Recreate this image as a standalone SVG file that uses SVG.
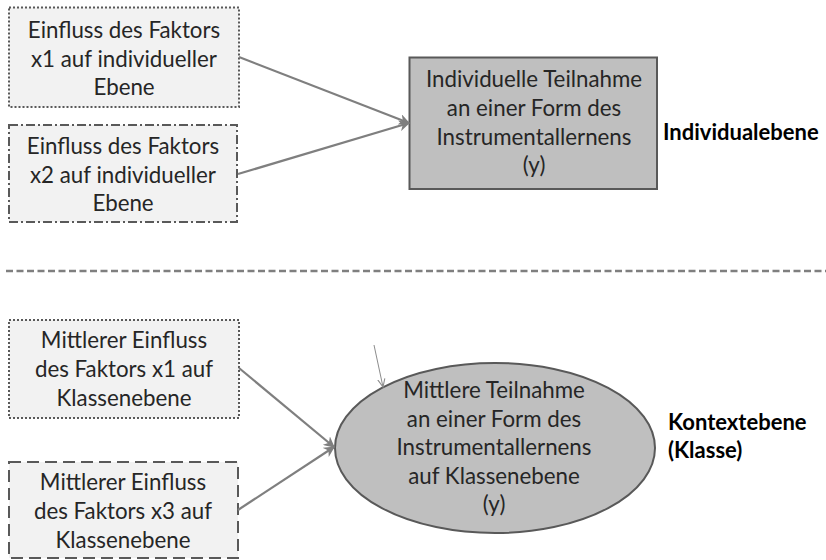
<svg xmlns="http://www.w3.org/2000/svg" width="826" height="560" viewBox="0 0 826 560">
<style>
.bx{fill:#f2f2f2;stroke:#595959;stroke-width:2}
.dot{stroke-dasharray:2,2}
.dd{stroke-dasharray:9,3,2,3}
.da{stroke-dasharray:12,6}
.tg{fill:#bfbfbf;stroke:#595959;stroke-width:2}
.t{font-family:Lato,"Liberation Sans",sans-serif;font-size:22.3px;fill:#262626;text-anchor:middle}
.b{font-family:Lato,"Liberation Sans",sans-serif;font-size:22px;font-weight:bold;fill:#000}
.ar{fill:none;stroke:#7f7f7f;stroke-width:2.2}
</style>
<defs>
<marker id="ah" viewBox="0 0 10 10" refX="9" refY="5" markerWidth="11" markerHeight="11" markerUnits="userSpaceOnUse" orient="auto">
<path d="M0,0 L10,5 L0,10 L3,5 z" fill="#7f7f7f"/>
</marker>
<marker id="ah2" viewBox="0 0 10 10" refX="9" refY="5" markerWidth="9" markerHeight="9" markerUnits="userSpaceOnUse" orient="auto">
<path d="M0,1 L9,5 L0,9" fill="none" stroke="#8c8c8c" stroke-width="1.2"/>
</marker>
</defs>
<g id="n1">
<rect class="bx dot" x="9" y="7.5" width="230" height="99.5"/>
<text class="t" x="124" y="38">Einfluss des Faktors</text>
<text class="t" x="124" y="67">x1 auf individueller</text>
<text class="t" x="124" y="95">Ebene</text>
</g>
<g id="n2">
<rect class="bx dd" x="9" y="125" width="228" height="97"/>
<text class="t" x="123" y="154">Einfluss des Faktors</text>
<text class="t" x="123" y="183">x2 auf individueller</text>
<text class="t" x="123" y="211">Ebene</text>
</g>
<g id="n3">
<rect class="tg" x="409.5" y="57.5" width="247.5" height="131.5"/>
<text class="t" x="534" y="87">Individuelle Teilnahme</text>
<text class="t" x="534" y="116">an einer Form des</text>
<text class="t" x="534" y="145">Instrumentallernens</text>
<text class="t" x="534" y="173">(y)</text>
</g>
<g id="l1">
<text class="b" x="663" y="140">Individualebene</text>
</g>
<g id="n4">
<rect class="bx dot" x="9" y="320" width="230" height="98"/>
<text class="t" x="124" y="348">Mittlerer Einfluss</text>
<text class="t" x="124" y="377">des Faktors x1 auf</text>
<text class="t" x="124" y="406">Klassenebene</text>
</g>
<g id="n5">
<rect class="bx da" x="9" y="462" width="229" height="96"/>
<text class="t" x="123" y="490">Mittlerer Einfluss</text>
<text class="t" x="123" y="519">des Faktors x3 auf</text>
<text class="t" x="123" y="548">Klassenebene</text>
</g>
<g id="n6">
<ellipse class="tg" cx="495" cy="448" rx="160" ry="85"/>
<text class="t" x="494" y="398">Mittlere Teilnahme</text>
<text class="t" x="494" y="427">an einer Form des</text>
<text class="t" x="494" y="455">Instrumentallernens</text>
<text class="t" x="494" y="484">auf Klassenebene</text>
<text class="t" x="494" y="512">(y)</text>
</g>
<g id="l2">
<text class="b" x="668" y="430">Kontextebene</text>
<text class="b" x="668" y="458">(Klasse)</text>
</g>
<g id="connectors">
<line x1="6" y1="271" x2="826" y2="271" stroke="#7f7f7f" stroke-width="2.6" stroke-dasharray="7,3.5"/>
<line class="ar" x1="239" y1="57" x2="409" y2="123" marker-end="url(#ah)"/>
<line class="ar" x1="238" y1="174" x2="409" y2="123" marker-end="url(#ah)"/>
<line class="ar" x1="239" y1="368" x2="334" y2="447" marker-end="url(#ah)"/>
<line class="ar" x1="238" y1="510" x2="334" y2="447" marker-end="url(#ah)"/>
<line x1="374" y1="345" x2="383" y2="387" stroke="#8c8c8c" stroke-width="1" marker-end="url(#ah2)"/>
</g>
</svg>
